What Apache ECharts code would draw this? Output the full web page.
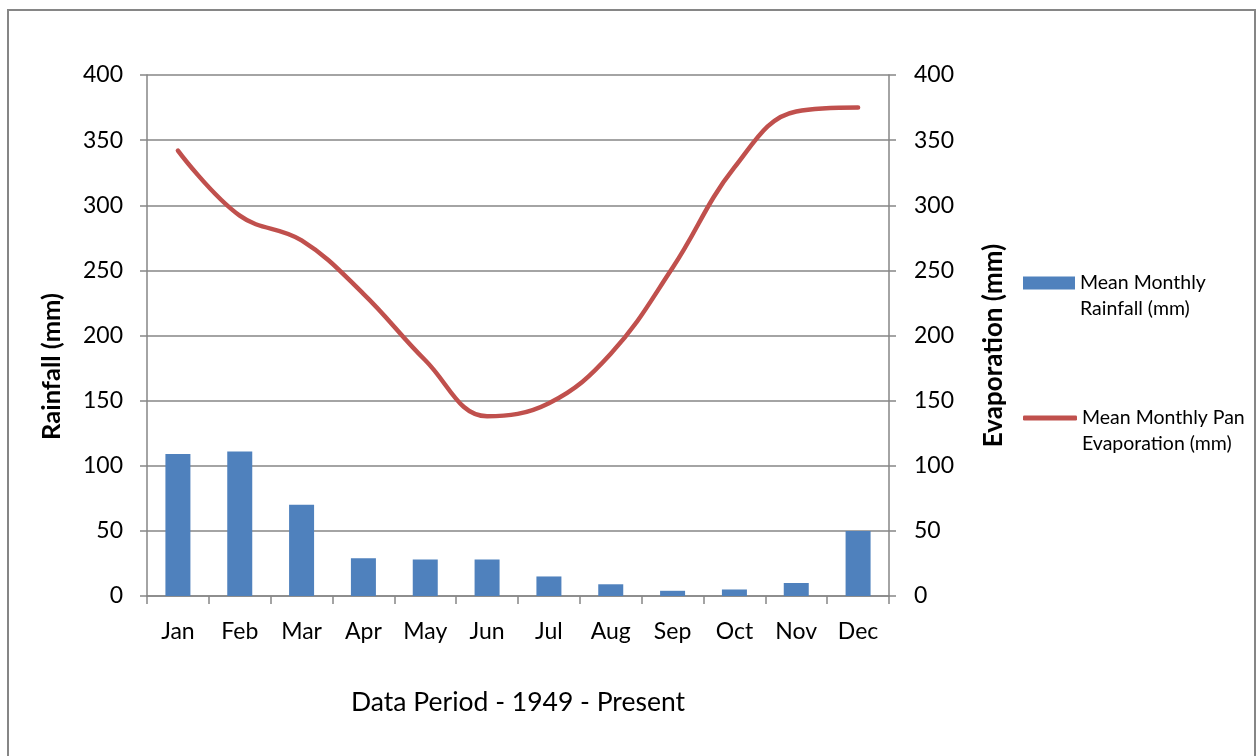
<!DOCTYPE html>
<html>
<head>
<meta charset="utf-8">
<script src="https://cdn.jsdelivr.net/npm/echarts@6/dist/echarts.min.js"></script>
<style>
html,body{margin:0;padding:0;background:#fff;}
#chart{width:1256px;height:756px;}
</style>
</head>
<body>
<div id="chart"></div>
<script>
var months = ['Jan','Feb','Mar','Apr','May','Jun','Jul','Aug','Sep','Oct','Nov','Dec'];
var rainfall = [109, 111, 70, 29, 28, 28, 15, 9, 4, 5, 10, 50];
var evaporation = [342, 292, 273, 232, 181, 138, 148, 186, 252, 329, 372, 375];
var rainName = 'Mean Monthly Rainfall (mm)';
var evapName = 'Mean Monthly Pan Evaporation (mm)';

var FONT = 'Lato';
var axisGray = '#868686';

var chart = echarts.init(document.getElementById('chart'), null, {renderer: 'canvas'});
chart.setOption({
  animation: false,
  backgroundColor: '#fff',
  textStyle: {fontFamily: FONT},
  graphic: [{
    type: 'rect',
    shape: {x: 8, y: 10, width: 1247, height: 770},
    style: {fill: 'none', stroke: axisGray, lineWidth: 2},
    silent: true, z: -1
  }],
  grid: {left: 147, right: 367, top: 75, bottom: 160, containLabel: false},
  legend: [{
    data: [{name: rainName, icon: 'rect'}],
    left: 1023, top: 244, orient: 'vertical', padding: 0,
    itemWidth: 52, itemHeight: 13, itemGap: 0,
    formatter: function(){ return ' \nMean Monthly\nRainfall (mm)'; },
    textStyle: {fontFamily: FONT, fontSize: 19.5, color: '#000', lineHeight: 26}
  }, {
    data: [{name: evapName, icon: 'roundRect'}],
    left: 1023, top: 379, orient: 'vertical', padding: 0,
    itemWidth: 54, itemHeight: 5, itemGap: 0,
    formatter: function(){ return ' \nMean Monthly Pan\nEvaporation (mm)'; },
    textStyle: {fontFamily: FONT, fontSize: 19.5, color: '#000', lineHeight: 26}
  }],
  xAxis: {
    type: 'category',
    data: months,
    boundaryGap: true,
    name: 'Data Period - 1949 - Present',
    nameLocation: 'middle',
    nameGap: 93,
    nameTextStyle: {fontFamily: FONT, fontSize: 26.5, color: '#000'},
    axisLine: {lineStyle: {color: axisGray, width: 1.5}},
    axisTick: {show: true, alignWithLabel: false, length: 8, lineStyle: {color: axisGray, width: 1.5}},
    axisLabel: {fontFamily: FONT, fontSize: 23, color: '#000', margin: 24},
    splitLine: {show: false}
  },
  yAxis: [{
    type: 'value', min: 0, max: 400, interval: 50, position: 'left',
    name: 'Rainfall (mm)', nameLocation: 'middle', nameGap: 82, nameRotate: 90,
    nameTextStyle: {fontFamily: FONT, fontSize: 25.5, fontWeight: 'bold', color: '#000', padding: [0, 62, 0, 0]},
    axisLine: {show: true, lineStyle: {color: axisGray, width: 1.5}},
    axisTick: {show: true, length: 7, lineStyle: {color: axisGray, width: 1.5}},
    axisLabel: {fontFamily: FONT, fontSize: 23, color: '#000', margin: 24},
    splitLine: {show: true, lineStyle: {color: axisGray, width: 1.5}}
  }, {
    type: 'value', min: 0, max: 400, interval: 50, position: 'right',
    name: 'Evaporation (mm)', nameLocation: 'middle', nameGap: 92, nameRotate: 90,
    nameTextStyle: {fontFamily: FONT, fontSize: 26, fontWeight: 'bold', color: '#000', padding: [0, 20, 0, 0]},
    axisLine: {show: true, lineStyle: {color: axisGray, width: 1.5}},
    axisTick: {show: true, length: 7, lineStyle: {color: axisGray, width: 1.5}},
    axisLabel: {fontFamily: FONT, fontSize: 23, color: '#000', margin: 25},
    splitLine: {show: false}
  }],
  series: [{
    name: rainName, type: 'bar', yAxisIndex: 0,
    data: rainfall, barWidth: 25,
    itemStyle: {color: '#4F81BD'}
  }, {
    name: evapName, type: 'line', yAxisIndex: 1,
    data: evaporation, smooth: 0.4, symbol: 'none',
    lineStyle: {color: '#C0504D', width: 4.5, cap: 'round'},
    itemStyle: {color: '#C0504D'}
  }]
});
</script>
</body>
</html>
